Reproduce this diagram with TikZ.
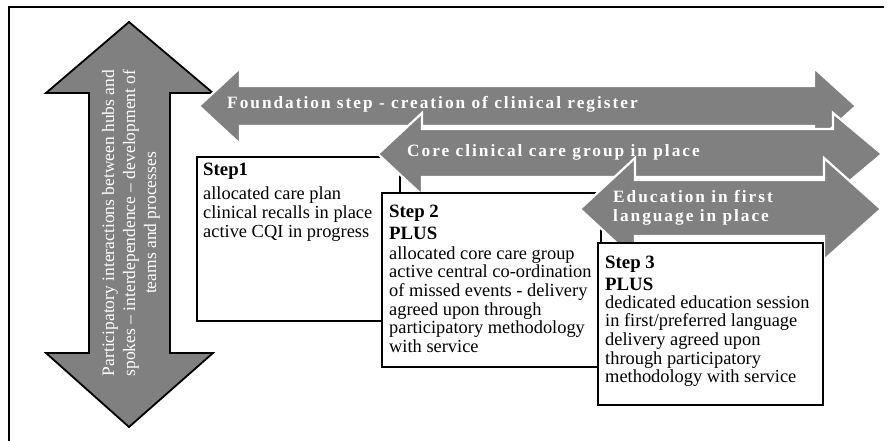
\documentclass[tikz,border=0pt]{standalone}
\usepackage{fontspec}
\setmainfont{Liberation Serif}
\definecolor{arrgray}{RGB}{128,128,128}
\newcommand\mylines[1]{\begin{tabular}[t]{@{}l@{}}#1\end{tabular}}
\begin{document}
\begin{tikzpicture}[x=1pt,y=-1pt,
  harrow/.style={fill=arrgray,draw=white,line width=2.2pt,line join=miter},
  varrow/.style={fill=arrgray,draw=black,line width=1.8pt,line join=miter},
  stepbox/.style={draw=black,line width=1.8pt,fill=white},
  arrtext/.style={text=white,inner sep=0pt,anchor=base west,
    font=\bfseries\fontsize{17.3}{19}\selectfont\addfontfeature{LetterSpace=11.5}},
  boxtitle/.style={inner sep=0pt,anchor=base west,
    font=\bfseries\fontsize{18.8}{22}\selectfont},
  boxbody/.style={inner sep=0pt,anchor=base west,
    font=\fontsize{18.4}{18.7}\selectfont},
  vtext/.style={text=white,inner sep=0pt,align=center,rotate=90,
    font=\fontsize{17.5}{21}\selectfont},
]
\useasboundingbox (0,0) rectangle (887,441);
\fill[white] (0,0) rectangle (887,441);
\coordinate (fbl) at (9,441);
\coordinate (ftl) at (9,7);
\coordinate (ftr) at (884,7);
\draw[line width=2.5pt] (fbl) -- (ftl) -- (ftr);

% vertical double arrow
\draw[varrow] (129,22) -- (213,93) -- (170,93) -- (170,353) -- (213,353) -- (129,427)
  -- (46,353) -- (89,353) -- (89,93) -- (46,93) -- cycle;
\node[vtext] (vlabel) at (131,223) {Participatory interactions between hubs and\\
  spokes – interdependence – development of\\ teams and processes};

% foundation arrow
\draw[harrow] (199,106) -- (240,68) -- (240,86) -- (814,86) -- (814,68) -- (856,106)
  -- (814,144) -- (814,126) -- (240,126) -- (240,144) -- cycle;
\node[arrtext] (found) at (227,109) {Foundation step - creation of clinical register};

% step 1
\draw[stepbox] (197,157) rectangle (400,321);
\node[boxtitle] (s1t) at (203,176) {Step1};
\node[boxbody] (s1b) at (203,200) {\mylines{allocated care plan\\clinical recalls in place\\active CQI in progress}};

% core arrow
\draw[harrow] (378,154) -- (422,113) -- (422,129) -- (833,129) -- (833,113) -- (882,154)
  -- (833,195) -- (833,177) -- (422,177) -- (422,195) -- cycle;
\node[arrtext] (core) at (407,157) {Core clinical care group in place};

% step 2
\draw[stepbox] (382,193) rectangle (601,367);
\node[boxtitle] (s2t) at (389,218) {\mylines{Step 2\\PLUS}};
\node[boxbody] (s2b) at (389,259) {\mylines{allocated core care group\\active central co-ordination\\of missed events - delivery\\agreed upon through\\participatory methodology\\with service}};

% education arrow
\draw[harrow] (580,209) -- (635,158) -- (635,180) -- (824,180) -- (824,158) -- (881,209)
  -- (824,260) -- (824,236) -- (635,236) -- (635,260) -- cycle;
\node[arrtext] (edu) at (613,203) {\mylines{Education in first\\language in place}};

% step 3
\draw[stepbox] (598,243) rectangle (823,405);
\node[boxtitle] (s3t) at (605,268) {\mylines{Step 3\\PLUS}};
\node[boxbody] (s3b) at (605,308) {\mylines{dedicated education session\\in first/preferred language\\delivery agreed upon\\through participatory\\methodology with service}};
\end{tikzpicture}
\end{document}
